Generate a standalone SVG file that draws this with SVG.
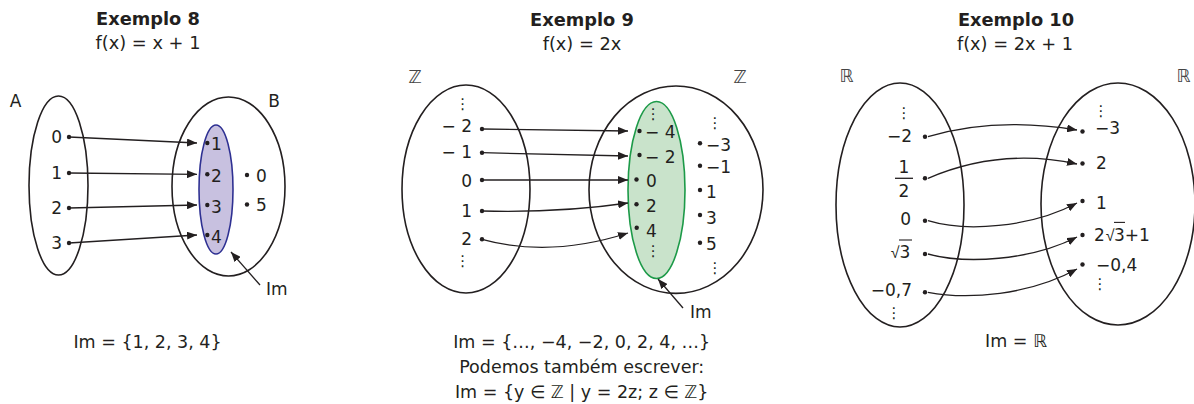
<svg xmlns="http://www.w3.org/2000/svg" width="1194" height="404" viewBox="0 0 1194 404">
<style>
text{font-family:"DejaVu Sans",sans-serif;fill:#231f20;font-size:17px}
.t{font-weight:bold;font-size:17.8px;text-anchor:middle}
.s{font-size:17.8px;text-anchor:middle}
.r{font-size:17.5px;text-anchor:middle}
.m{text-anchor:middle}
.e{text-anchor:end}
.set{fill:none;stroke:#231f20;stroke-width:1.6}
.dd{font-size:15px;text-anchor:middle}
.bb{font-size:18px;fill:#444;text-anchor:middle}
.rad{font-family:"Liberation Sans",sans-serif;font-size:16px;text-anchor:end}
.c{fill:none;stroke:#231f20;stroke-width:1.3;marker-end:url(#ah)}
</style>
<defs>
<marker id="ah" markerUnits="userSpaceOnUse" markerWidth="11" markerHeight="8" refX="10" refY="4" orient="auto">
<path d="M0,0 L10,4 L0,8 z" fill="#231f20"/>
</marker>
</defs>

<!-- Exemplo 8 -->
<g id="ex8-title">
<text class="t" x="148" y="25">Exemplo 8</text>
<text class="s" x="148" y="49">f(x) = x + 1</text>
</g>
<g id="ex8-A">
<ellipse class="set" cx="58.5" cy="185.5" rx="29.5" ry="89.5"/>
<text class="m" x="15.5" y="107">A</text>
<text class="e" x="62" y="143">0</text>
<text class="e" x="62" y="179">1</text>
<text class="e" x="62" y="214">2</text>
<text class="e" x="62" y="249">3</text>
<g fill="#231f20"><circle cx="69" cy="137" r="2.2"/><circle cx="69" cy="173" r="2.2"/><circle cx="69" cy="208" r="2.2"/><circle cx="69" cy="243" r="2.2"/></g>
</g>
<g id="ex8-B">
<ellipse class="set" cx="228.5" cy="186.5" rx="56.5" ry="89.5"/>
<text class="m" x="274" y="107">B</text>
<g fill="#231f20"><circle cx="247" cy="175" r="2.2"/><circle cx="247" cy="204.5" r="2.2"/></g>
<text x="256" y="181.5">0</text>
<text x="256" y="211">5</text>
</g>
<g id="ex8-Im">
<ellipse cx="216" cy="189.5" rx="17" ry="64.5" fill="#c8c1e0" stroke="#2e3092" stroke-width="1.6"/>
<g fill="#231f20"><circle cx="207.3" cy="143" r="2.2"/><circle cx="207.3" cy="174.3" r="2.2"/><circle cx="207.3" cy="205" r="2.2"/><circle cx="207.3" cy="235" r="2.2"/></g>
<text x="211" y="150">1</text>
<text x="211" y="181.7">2</text>
<text x="211" y="212.7">3</text>
<text x="211" y="242.7">4</text>
<text x="266" y="295">Im</text>
</g>
<g id="ex8-result">
<text class="r" x="147.5" y="348">Im = {1, 2, 3, 4}</text>
</g>

<!-- Exemplo 9 -->
<g id="ex9-title">
<text class="t" x="582" y="26">Exemplo 9</text>
<text class="s" x="582" y="50">f(x) = 2x</text>
</g>
<g id="ex9-domain">
<ellipse class="set" cx="466" cy="189" rx="64" ry="104"/>
<text class="bb" x="415" y="83">ℤ</text>
<text class="dd" x="462.7" y="109">⋮</text>
<text class="e" x="472" y="132">− 2</text>
<text class="e" x="472" y="158.3">− 1</text>
<text class="e" x="472" y="186.7">0</text>
<text class="e" x="472" y="216.7">1</text>
<text class="e" x="472" y="245">2</text>
<text class="dd" x="462.7" y="266">⋮</text>
<g fill="#231f20"><circle cx="482" cy="129" r="2.2"/><circle cx="482" cy="152.7" r="2.2"/><circle cx="482" cy="180" r="2.2"/><circle cx="482" cy="211" r="2.2"/><circle cx="482" cy="239.3" r="2.2"/></g>
</g>
<g id="ex9-codomain">
<ellipse class="set" cx="676" cy="189.7" rx="87" ry="103.7"/>
<text class="bb" x="740" y="83">ℤ</text>
<text class="dd" x="715" y="127.5">⋮</text>
<g fill="#231f20"><circle cx="700" cy="143.3" r="2.2"/><circle cx="700" cy="165.7" r="2.2"/><circle cx="700" cy="190" r="2.2"/><circle cx="700" cy="215" r="2.2"/><circle cx="700" cy="242.7" r="2.2"/></g>
<text x="706" y="150.7">−3</text>
<text x="706" y="173.3">−1</text>
<text x="706" y="198.3">1</text>
<text x="706" y="224">3</text>
<text x="706" y="250">5</text>
<text class="dd" x="715" y="272.5">⋮</text>
</g>
<g id="ex9-Im">
<ellipse cx="656.5" cy="190" rx="28.5" ry="88.5" fill="#c9e3cb" stroke="#1c9a48" stroke-width="1.6"/>
<text class="dd" x="653.3" y="119">⋮</text>
<g fill="#231f20"><circle cx="639.5" cy="131" r="2.2"/><circle cx="639.5" cy="155" r="2.2"/><circle cx="636.5" cy="179.5" r="2.2"/><circle cx="636.5" cy="204.3" r="2.2"/><circle cx="636.7" cy="227.7" r="2.2"/></g>
<text x="645" y="138.3">− 4</text>
<text x="645" y="163.3">− 2</text>
<text x="646" y="187.3">0</text>
<text x="646" y="211.7">2</text>
<text x="646" y="236.7">4</text>
<text class="dd" x="653.3" y="256">⋮</text>
<text x="690" y="318">Im</text>
</g>
<g id="ex9-result">
<text class="r" x="581.7" y="348">Im = {…, −4, −2, 0, 2, 4, …}</text>
<text class="r" x="581.7" y="373">Podemos também escrever:</text>
<text class="r" x="581.7" y="398">Im = {y ∈ ℤ | y = 2z; z ∈ ℤ}</text>
</g>

<!-- Exemplo 10 -->
<g id="ex10-title">
<text class="t" x="1016" y="26">Exemplo 10</text>
<text class="s" x="1015" y="50">f(x) = 2x + 1</text>
</g>
<g id="ex10-domain">
<ellipse class="set" cx="900" cy="205" rx="64" ry="122"/>
<text class="bb" x="846.5" y="82">ℝ</text>
<text class="dd" x="904" y="118">⋮</text>
<text class="e" x="912" y="141.7">−2</text>
<text class="m" x="904" y="173">1</text>
<line x1="895" y1="178.3" x2="913" y2="178.3" stroke="#231f20" stroke-width="1.3"/>
<text class="m" x="904" y="197">2</text>
<text class="e" x="911" y="225">0</text>
<text class="rad" x="899.5" y="258.3">√</text>
<text x="899.5" y="258.3">3</text>
<line x1="899" y1="240" x2="912" y2="240" stroke="#231f20" stroke-width="1.1"/>
<text class="e" x="912" y="296">−0,7</text>
<text class="dd" x="894" y="318">⋮</text>
<g fill="#231f20"><circle cx="925" cy="136.7" r="2.2"/><circle cx="925" cy="178.3" r="2.2"/><circle cx="925" cy="220.7" r="2.2"/><circle cx="925" cy="254" r="2.2"/><circle cx="925" cy="292.3" r="2.2"/></g>
</g>
<g id="ex10-codomain">
<ellipse class="set" cx="1118" cy="204" rx="77" ry="121"/>
<text class="bb" x="1183.5" y="82">ℝ</text>
<text class="dd" x="1101" y="116">⋮</text>
<g fill="#231f20"><circle cx="1082.5" cy="131.5" r="2.2"/><circle cx="1082.5" cy="163.5" r="2.2"/><circle cx="1082.5" cy="201" r="2.2"/><circle cx="1082.5" cy="235" r="2.2"/><circle cx="1082.5" cy="264.5" r="2.2"/></g>
<text x="1095" y="134">−3</text>
<text x="1096" y="169.3">2</text>
<text x="1096" y="209.3">1</text>
<text x="1094" y="240.7">2</text>
<text class="rad" x="1114.5" y="240.7">√</text>
<text x="1114" y="240.7">3+1</text>
<line x1="1114" y1="222.4" x2="1125" y2="222.4" stroke="#231f20" stroke-width="1.1"/>
<text x="1096" y="270.7">−0,4</text>
<text class="dd" x="1100" y="289">⋮</text>
</g>
<g id="ex10-result">
<text class="r" x="1016" y="346.7">Im = ℝ</text>
</g>

<g id="connectors">
<path class="c" d="M69,137 L197,143"/>
<path class="c" d="M69,173 L197,174.3"/>
<path class="c" d="M69,208 L197,205"/>
<path class="c" d="M69,243 L197,235"/>
<path class="c" d="M260,285 L231,252"/>
<path class="c" d="M482,129 L628,131"/>
<path class="c" d="M482,152.7 L628,156"/>
<path class="c" d="M482,180 L628,180"/>
<path class="c" d="M482,211 Q560,213 628,203"/>
<path class="c" d="M482,239.3 Q550,258 628,233"/>
<path class="c" d="M683,308 L658,279"/>
<path class="c" d="M928,136.7 Q995,116.6 1077,130"/>
<path class="c" d="M928,178.3 Q1000,147.4 1077,164"/>
<path class="c" d="M928,220.7 C965,232 1030,228 1077,203"/>
<path class="c" d="M928,254 C965,264 1030,261 1077,237"/>
<path class="c" d="M928,292.3 C968,300 1030,295 1077,269"/>
</g>
</svg>
